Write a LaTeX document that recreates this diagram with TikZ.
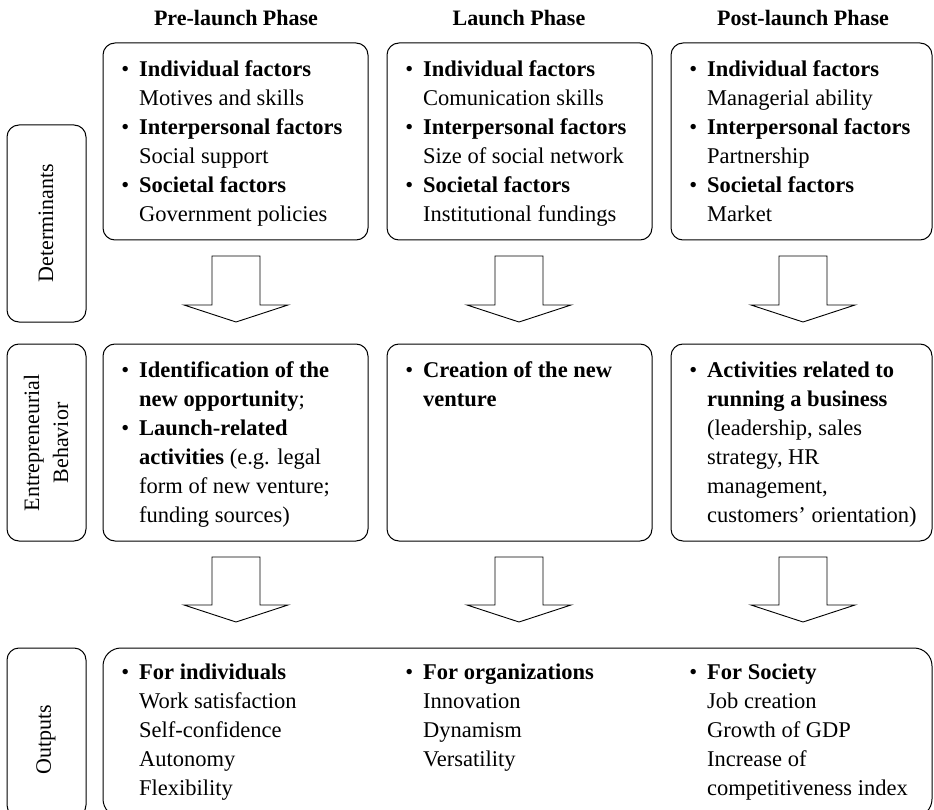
\documentclass[tikz,border=0pt]{standalone}
\usepackage{fontspec}
\setmainfont{Liberation Serif}
\newcommand{\itm}{\makebox[0pt][r]{\textbullet\hspace{10pt}}}
% a column of lines whose first baseline sits on the node's base
\newcommand{\lines}[1]{\begin{tabular}[t]{@{}l@{}}#1\end{tabular}}
% block arrow: centre x, shaft top, head base, tip
\newcommand{\blockarr}[4]{%
  \draw[blockarrow] (#1-24,#2) -- (#1+24,#2) -- (#1+24,#3) -- (#1+52,#3)
    -- (#1,#4) -- (#1-52,#3) -- (#1-24,#3) -- cycle;}
\begin{document}
\begin{tikzpicture}[x=1pt,y=-1pt,
  panel/.style={draw, line width=1pt, rounded corners=12pt, anchor=north west,
                inner sep=0pt, outer sep=0pt},
  body/.style={anchor=base west, inner sep=0pt,
               font=\fontsize{22.5}{29}\selectfont},
  head/.style={anchor=base, inner sep=0pt, font=\bfseries\fontsize{22}{24}\selectfont},
  side/.style={rotate=90, align=center, inner sep=0pt,
               font=\fontsize{22}{29}\selectfont},
  blockarrow/.style={draw, line width=0.9pt, fill=white, line join=miter}]
\useasboundingbox (0,0) rectangle (934,810);
\clip (0,0) rectangle (934,810);

% phase headings
\node[head] (h1) at (236,26) {Pre-launch Phase};
\node[head] (h2) at (519,26) {Launch Phase};
\node[head] (h3) at (803,26) {Post-launch Phase};

% row labels
\node[panel, minimum width=79pt, minimum height=197pt] (ld) at (7,125) {};
\node[panel, minimum width=79pt, minimum height=197pt] (le) at (7,344) {};
\node[panel, minimum width=79pt, minimum height=169pt] (lo) at (7,648) {};
\node[side] (tld) at (46,223) {Determinants};
\node[side] (tle) at (46,443) {Entrepreneurial\\Behavior};
\node[side] (tlo) at (46,740) {Outputs};

% determinants
\node[panel, minimum width=265pt, minimum height=197pt] (d1) at (103,43) {};
\node[panel, minimum width=265pt, minimum height=197pt] (d2) at (387,43) {};
\node[panel, minimum width=261pt, minimum height=197pt] (d3) at (671,43) {};

% entrepreneurial behaviour
\node[panel, minimum width=265pt, minimum height=197pt] (b1) at (103,344) {};
\node[panel, minimum width=265pt, minimum height=197pt] (b2) at (387,344) {};
\node[panel, minimum width=261pt, minimum height=197pt] (b3) at (671,344) {};

% outputs
\node[panel, rounded corners=18pt, minimum width=829pt, minimum height=169pt] (o) at (103,648) {};

% texts of the determinants
\node[body] (td1) at (139,77) {\lines{\itm\textbf{Individual factors}\\Motives and skills\\
  \itm\textbf{Interpersonal factors}\\Social support\\
  \itm\textbf{Societal factors}\\Government policies}};
\node[body] (td2) at (423,77) {\lines{\itm\textbf{Individual factors}\\Comunication skills\\
  \itm\textbf{Interpersonal factors}\\Size of social network\\
  \itm\textbf{Societal factors}\\Institutional fundings}};
\node[body] (td3) at (707,77) {\lines{\itm\textbf{Individual factors}\\Managerial ability\\
  \itm\textbf{Interpersonal factors}\\Partnership\\
  \itm\textbf{Societal factors}\\Market}};

% texts of the behaviour row
\node[body] (tb1) at (139,377) {\lines{\itm\textbf{Identification of the}\\\textbf{new opportunity};\\
  \itm\textbf{Launch-related}\\\textbf{activities} (e.g. legal\\form of new venture;\\funding sources)}};
\node[body] (tb2) at (423,377) {\lines{\itm\textbf{Creation of the new}\\\textbf{venture}}};
\node[body] (tb3) at (707,377) {\lines{\itm\textbf{Activities related to}\\\textbf{running a business}\\
  (leadership, sales\\strategy, HR\\management,\\customers’ orientation)}};

% texts of the outputs
\node[body] (to1) at (139,679) {\lines{\itm\textbf{For individuals}\\Work satisfaction\\Self-confidence\\Autonomy\\Flexibility}};
\node[body] (to2) at (423,679) {\lines{\itm\textbf{For organizations}\\Innovation\\Dynamism\\Versatility}};
\node[body] (to3) at (707,679) {\lines{\itm\textbf{For Society}\\Job creation\\Growth of GDP\\Increase of\\competitiveness index}};

% block arrows between the rows
\blockarr{236}{256}{305}{322}
\blockarr{519}{256}{305}{322}
\blockarr{803}{256}{305}{322}
\blockarr{236}{557}{605}{622}
\blockarr{519}{557}{605}{622}
\blockarr{803}{557}{605}{622}
\end{tikzpicture}
\end{document}
